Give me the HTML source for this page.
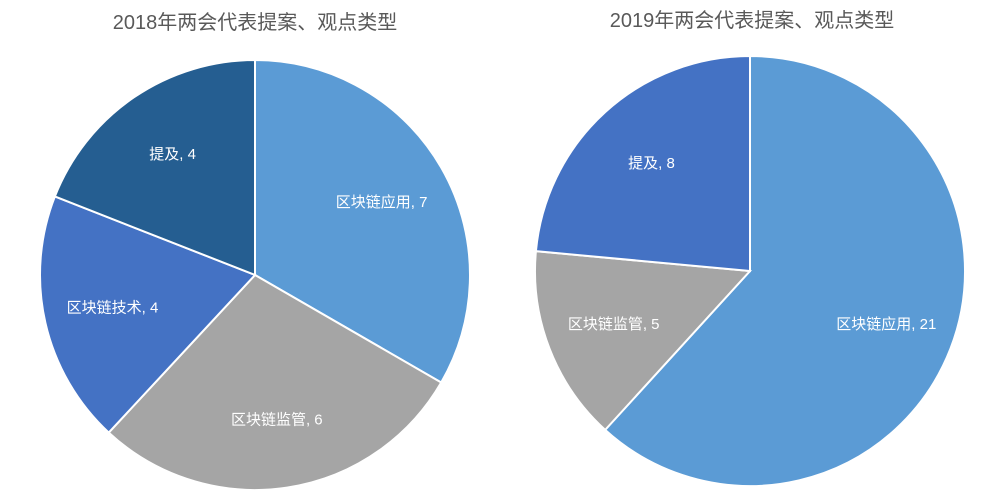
<!DOCTYPE html>
<html><head><meta charset="utf-8"><style>
body{margin:0;background:#fff;}
svg{display:block;font-family:"Liberation Sans","Noto Sans CJK SC",sans-serif;}
</style></head><body>
<svg id="chart" width="1000" height="500">
<text x="255" y="29" text-anchor="middle" font-size="20" fill="#595959">2018年两会代表提案、观点类型</text>
<text x="752" y="27" text-anchor="middle" font-size="20" fill="#595959">2019年两会代表提案、观点类型</text>
</svg>
<script>
const categories2018 = ["区块链应用","区块链监管","区块链技术","提及"];
const values2018 = [7,6,4,4];
const colors2018 = ["#5B9BD5","#A5A5A5","#4472C4","#255E91"];
const categories2019 = ["区块链应用","区块链监管","提及"];
const values2019 = [21,5,8];
const colors2019 = ["#5B9BD5","#A5A5A5","#4472C4"];
const NS="http://www.w3.org/2000/svg";
const svg=document.getElementById('chart');
function pt(cx,cy,r,a){return [cx+r*Math.sin(a), cy-r*Math.cos(a)];}
function drawPie(cx,cy,r,cats,vals,cols,tag){
  const total=vals.reduce((a,b)=>a+b,0);
  let a0=0;
  vals.forEach((v,i)=>{
    const a1=a0+v/total*2*Math.PI;
    const p0=pt(cx,cy,r,a0),p1=pt(cx,cy,r,a1);
    const large=(a1-a0)>Math.PI?1:0;
    const path=document.createElementNS(NS,'path');
    path.setAttribute('d',`M${cx},${cy} L${p0[0]},${p0[1]} A${r},${r} 0 ${large} 1 ${p1[0]},${p1[1]} Z`);
    path.setAttribute('fill',cols[i]);
    path.setAttribute('stroke','#fff');
    path.setAttribute('stroke-width','2');
    
    
    svg.appendChild(path);
    const m=(a0+a1)/2;
    const lp=pt(cx,cy,r*0.68,m);
    const t=document.createElementNS(NS,'text');
    t.setAttribute('x',lp[0]);t.setAttribute('y',lp[1]+5);
    t.setAttribute('text-anchor','middle');
    t.setAttribute('font-size','15');
    t.setAttribute('fill','#fff');
    t.textContent=cats[i]+", "+v;
    
    
    svg.appendChild(t);
    a0=a1;
  });
}
drawPie(255,275,215,categories2018,values2018,colors2018,'2018');
drawPie(750,271,215,categories2019,values2019,colors2019,'2019');
</script>
</body></html>
